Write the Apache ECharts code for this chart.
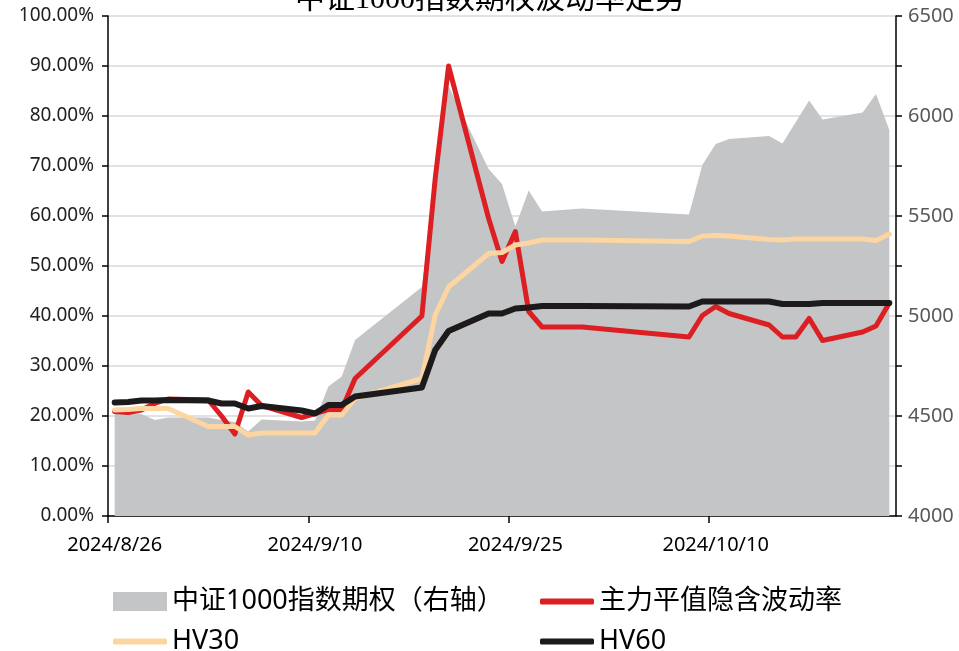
<!DOCTYPE html>
<html>
<head>
<meta charset="utf-8">
<script src="https://cdn.jsdelivr.net/npm/echarts@6/dist/echarts.min.js"></script>
<style>
  html, body { margin: 0; padding: 0; background: #fff; }
  #chart { width: 959px; height: 651px; }
</style>
</head>
<body>
<div id="chart"></div>
<script>
// trading days shown in the chart
var dates = ['2024/8/26', '2024/8/27', '2024/8/28', '2024/8/29', '2024/8/30',
  '2024/9/2', '2024/9/3', '2024/9/4', '2024/9/5', '2024/9/6',
  '2024/9/9', '2024/9/10', '2024/9/11', '2024/9/12', '2024/9/13',
  '2024/9/18', '2024/9/19', '2024/9/20',
  '2024/9/23', '2024/9/24', '2024/9/25', '2024/9/26', '2024/9/27',
  '2024/9/30',
  '2024/10/8', '2024/10/9', '2024/10/10', '2024/10/11',
  '2024/10/14', '2024/10/15', '2024/10/16', '2024/10/17', '2024/10/18',
  '2024/10/21', '2024/10/22', '2024/10/23'];

// 中证1000指数 (right axis)
var indexClose = [4515, 4515, 4510, 4480, 4493,
  4492, 4480, 4470, 4422, 4483,
  4473, 4477, 4647, 4697, 4880,
  5145, 5640, 6150,
  5735, 5660, 5447, 5627, 5522,
  5538,
  5508, 5755, 5860, 5885,
  5900, 5863, 5970, 6077, 5983,
  6017, 6110, 5930];

// 主力平值隐含波动率 (%)
var ivMain = [20.9, 20.7, 21.2, 22.5, 23.4,
  23.2, 20.0, 16.4, 24.8, 22.1,
  19.7, 20.5, 21.3, 21.3, 27.5,
  40.0, 67.5, 90.0,
  59.5, 50.9, 56.9, 40.9, 37.8,
  37.8,
  35.8, 40.1, 41.9, 40.5,
  38.2, 35.8, 35.8, 39.5, 35.1,
  36.8, 38.0, 42.6];

// HV30 (%)
var hv30 = [21.2, 21.3, 21.5, 21.5, 21.5,
  17.9, 17.9, 17.9, 16.2, 16.6,
  16.6, 16.6, 20.2, 20.2, 23.5,
  27.5, 40.2, 45.8,
  52.5, 52.7, 54.2, 54.6, 55.2,
  55.2,
  54.9, 56.0, 56.1, 56.0,
  55.3, 55.2, 55.4, 55.4, 55.4,
  55.4, 55.1, 56.4];

// HV60 (%)
var hv60 = [22.7, 22.8, 23.1, 23.1, 23.2,
  23.1, 22.5, 22.5, 21.5, 22.0,
  21.1, 20.5, 22.2, 22.2, 23.9,
  25.7, 33.2, 37.0,
  40.5, 40.5, 41.5, 41.7, 42.0,
  42.0,
  41.9, 42.9, 42.9, 42.9,
  42.9, 42.4, 42.4, 42.4, 42.6,
  42.6, 42.6, 42.6];

var xTickDays = [0, 15, 30, 45];

var base = Date.UTC(2024, 7, 26);
var DAY = 86400000;

function dayOf(s) {
  var p = s.split('/');
  return (Date.UTC(+p[0], +p[1] - 1, +p[2]) - base) / DAY;
}
function labelOf(v) {
  var d = new Date(base + Math.floor(v) * DAY);
  return d.getUTCFullYear() + '/' + (d.getUTCMonth() + 1) + '/' + d.getUTCDate();
}
function pairs(vals) {
  return dates.map(function(s, i) {
    return [dayOf(s) + 0.5, vals[i]];
  });
}

var cjk = '"Noto Sans", "Noto Sans CJK SC", sans-serif';

// one legend per entry so the two columns line up like the original
function legendItem(name, left, top, isArea) {
  return {
    left: left,
    top: top,
    itemWidth: 54,
    itemHeight: isArea ? 19 : 6,
    icon: isArea ? 'rect' : 'roundRect',
    textStyle: { fontFamily: cjk, fontSize: 27, color: '#000' },
    data: [name]
  };
}

var myChart = echarts.init(document.getElementById('chart'));
var option = {
  animation: false,
  backgroundColor: '#fff',
  title: {
    text: '中证1000指数期权波动率走势',
    left: 290,
    top: -20,
    textStyle: {
      fontFamily: '"Liberation Serif", "Noto Sans CJK SC", serif',
      fontSize: 30,
      fontWeight: 'normal',
      color: '#000'
    }
  },
  grid: { left: 108, right: 63, top: 16, bottom: 135 },
  legend: [
    legendItem('中证1000指数期权（右轴）', 108, 583, true),
    legendItem('主力平值隐含波动率', 535, 583, false),
    legendItem('HV30', 108, 623, false),
    legendItem('HV60', 535, 623, false)
  ],
  xAxis: {
    type: 'value',
    min: 0,
    max: 59,
    axisLine: { lineStyle: { color: '#000', width: 1.5 } },
    axisTick: { show: true, length: 7, customValues: xTickDays, lineStyle: { color: '#000', width: 1.5 } },
    axisLabel: {
      customValues: xTickDays.map(function(v) { return v + 0.5; }),
      formatter: labelOf,
      fontFamily: '"Noto Sans", sans-serif',
      fontSize: 20,
      color: '#000',
      margin: 19
    },
    splitLine: { show: false }
  },
  yAxis: [{
    type: 'value',
    min: 0,
    max: 100,
    interval: 10,
    axisLine: { show: true, lineStyle: { color: '#000', width: 1.5 } },
    axisTick: { show: true, length: 6, lineStyle: { color: '#000', width: 1.5 } },
    axisLabel: {
      formatter: function(v) { return v.toFixed(2) + '%'; },
      fontFamily: '"Noto Sans", sans-serif',
      fontSize: 19,
      color: '#222',
      margin: 14
    },
    splitLine: { show: true, lineStyle: { color: '#d9d9d9', width: 1.5 } }
  }, {
    type: 'value',
    min: 4000,
    max: 6500,
    interval: 250,
    axisLine: { show: true, lineStyle: { color: '#000', width: 1.5 } },
    axisTick: { show: true, length: 6, lineStyle: { color: '#000', width: 1.5 } },
    axisLabel: {
      formatter: function(v) { return v % 500 === 0 ? String(v) : ''; },
      fontFamily: '"Noto Sans", sans-serif',
      fontSize: 20,
      color: '#595959',
      margin: 12
    },
    splitLine: { show: false }
  }],
  series: [{
    name: '中证1000指数期权（右轴）',
    type: 'line',
    yAxisIndex: 1,
    data: pairs(indexClose),
    symbol: 'none',
    lineStyle: { width: 0 },
    itemStyle: { color: '#c4c5c7' },
    areaStyle: { color: '#c4c5c7', opacity: 1, origin: 'start' }
  }, {
    name: '主力平值隐含波动率',
    type: 'line',
    data: pairs(ivMain),
    symbol: 'none',
    itemStyle: { color: '#dc1f23' },
    lineStyle: { color: '#dc1f23', width: 5, cap: 'round', join: 'round' }
  }, {
    name: 'HV30',
    type: 'line',
    data: pairs(hv30),
    symbol: 'none',
    itemStyle: { color: '#fcd5a0' },
    lineStyle: { color: '#fcd5a0', width: 5, cap: 'round', join: 'round' }
  }, {
    name: 'HV60',
    type: 'line',
    data: pairs(hv60),
    symbol: 'none',
    itemStyle: { color: '#1c1a1b' },
    lineStyle: { color: '#1c1a1b', width: 6, cap: 'round', join: 'round' }
  }]
};
myChart.setOption(option, true);
</script>
</body>
</html>
